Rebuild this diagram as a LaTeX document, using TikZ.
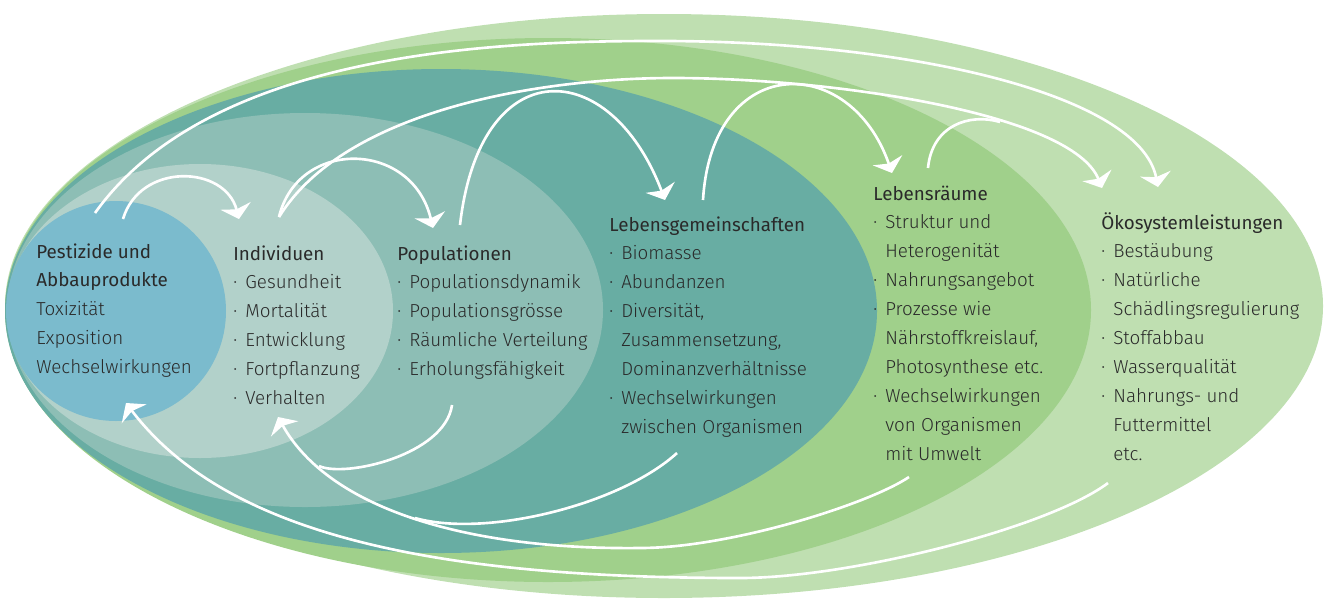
\documentclass[tikz,border=0pt]{standalone}
\usepackage{fontspec}
\setmainfont{Fira Sans Light}[BoldFont={Fira Sans}]
\usepackage{xcolor}
\usepackage{tikz}
\usetikzlibrary{arrows.meta}
\definecolor{service}{HTML}{BFDFB1}
\definecolor{habitat}{HTML}{A0D08B}
\definecolor{community}{HTML}{68ADA3}
\definecolor{population}{HTML}{8DBEB5}
\definecolor{individual}{HTML}{B2D1CA}
\definecolor{pesticide}{HTML}{7BBBCD}
\definecolor{ink}{HTML}{2A2A2A}
\tikzset{
  ring/.style={draw=none},
  flow/.style={draw=white, line width=1.5pt},
  flowtip/.style={flow, -{Stealth[length=0.27cm, width=0.62cm, inset=0.07cm]}},
  lab/.style={text=ink, inner sep=0pt, anchor=base west,
    font=\fontsize{10.7pt}{16.5pt}\selectfont},
}
\newcommand{\itm}{\makebox[0.24cm][l]{·}}
\newcommand{\cnt}{\hspace*{0.24cm}}

\begin{document}
\begin{tikzpicture}[x=0.02cm, y=-0.02cm]
  \useasboundingbox (0,0) rectangle (1324,599);

  % nested levels
  \fill[service]    (664,306) ellipse [x radius=659, y radius=292];
  \fill[habitat]    (548,310) ellipse [x radius=543, y radius=272];
  \fill[community]  (441,311) ellipse [x radius=436, y radius=242];
  \fill[population] (305,310) ellipse [x radius=298, y radius=197];
  \fill[individual] (200,311) ellipse [x radius=193, y radius=147];
  \fill[pesticide]  (116,311) circle [radius=110];

  % end points of the flows
  \coordinate (pest-a) at (95,213);
  \coordinate (pest-b) at (123,219);
  \coordinate (ind-in) at (239,219);
  \coordinate (ind-out) at (279,217);
  \coordinate (pop-in) at (433,228);
  \coordinate (pop-out) at (460,225);
  \coordinate (lg-in) at (665,200);
  \coordinate (lg-out) at (703,200);
  \coordinate (lr-in) at (892,173);
  \coordinate (lr-out) at (928,168);
  \coordinate (oek-in) at (1102,188);
  \coordinate (oek-in2) at (1158,187);
  \coordinate (top1) at (653,41);
  \coordinate (top2) at (673,78);
  \coordinate (join) at (1000,122);

  \coordinate (oek-back) at (1108,483);
  \coordinate (lr-back) at (909,477);
  \coordinate (lg-back) at (677,453);
  \coordinate (pop-back) at (452,405);
  \coordinate (pest-back) at (126,403);
  \coordinate (ind-back) at (278,417);
  \coordinate (low1) at (740,578);
  \coordinate (low2) at (640,548);
  \coordinate (merge1) at (415,518);
  \coordinate (merge2) at (319,466);

  % upward flows
  \draw[flowtip] (pest-b) .. controls (140,162) and (225,165) .. (ind-in);
  \draw[flowtip] (ind-out) .. controls (298,138) and (412,140) .. (pop-in);
  \draw[flowtip] (pop-out) .. controls (480,50) and (610,55) .. (lg-in);
  \draw[flowtip] (lg-out) .. controls (712,52) and (850,52) .. (lr-in);
  \draw[flow] (lr-out) .. controls (932,125) and (970,113) .. (join);
  \draw[flowtip] (ind-out) .. controls (345,110) and (540,78) .. (top2)
    .. controls (830,78) and (1072,113) .. (oek-in);
  \draw[flowtip] (pest-a) .. controls (207,56) and (480,41) .. (top1)
    .. controls (910,40) and (1140,95) .. (oek-in2);

  % feedback flows
  \draw[flowtip] (oek-back) .. controls (1048,528) and (850,578) .. (low1)
    .. controls (450,578) and (230,540) .. (pest-back);
  \draw[flowtip] (lr-back) .. controls (869,504) and (730,548) .. (low2)
    .. controls (470,550) and (330,510) .. (ind-back);
  \draw[flow] (lg-back) .. controls (620,505) and (485,538) .. (merge1);
  \draw[flow] (pop-back) .. controls (445,455) and (345,478) .. (merge2);

  % texts
  \node[lab] (pest) at (36,258) {\begin{tabular}[t]{@{}l@{}}
    \textbf{Pestizide und}\\ \textbf{Abbauprodukte}\\ Toxizität\\
    Exposition\\ Wechselwirkungen\end{tabular}};
  \node[lab] (ind) at (233,260) {\begin{tabular}[t]{@{}l@{}}
    \textbf{Individuen}\\ \itm Gesundheit\\ \itm Mortalität\\
    \itm Entwicklung\\ \itm Fortpflanzung\\ \itm Verhalten\end{tabular}};
  \node[lab] (pop) at (397,260) {\begin{tabular}[t]{@{}l@{}}
    \textbf{Populationen}\\ \itm Populationsdynamik\\ \itm Populationsgrösse\\
    \itm Räumliche Verteilung\\ \itm Erholungsfähigkeit\end{tabular}};
  \node[lab] (lg) at (609,231) {\begin{tabular}[t]{@{}l@{}}
    \textbf{Lebensgemeinschaften}\\ \itm Biomasse\\ \itm Abundanzen\\
    \itm Diversität,\\ \cnt Zusammensetzung,\\ \cnt Dominanzverhältnisse\\
    \itm Wechselwirkungen\\ \cnt zwischen Organismen\end{tabular}};
  \node[lab] (lr) at (873,200) {\begin{tabular}[t]{@{}l@{}}
    \textbf{Lebensräume}\\ \itm Struktur und\\ \cnt Heterogenität\\
    \itm Nahrungsangebot\\ \itm Prozesse wie\\ \cnt Nährstoffkreislauf,\\
    \cnt Photosynthese etc.\\ \itm Wechselwirkungen\\ \cnt von Organismen\\
    \cnt mit Umwelt\end{tabular}};
  \node[lab] (oek) at (1101,229) {\begin{tabular}[t]{@{}l@{}}
    \textbf{Ökosystemleistungen}\\ \itm Bestäubung\\ \itm Natürliche\\
    \cnt Schädlingsregulierung\\ \itm Stoffabbau\\ \itm Wasserqualität\\
    \itm Nahrungs- und\\ \cnt Futtermittel\\ \cnt etc.\end{tabular}};
\end{tikzpicture}
\end{document}
